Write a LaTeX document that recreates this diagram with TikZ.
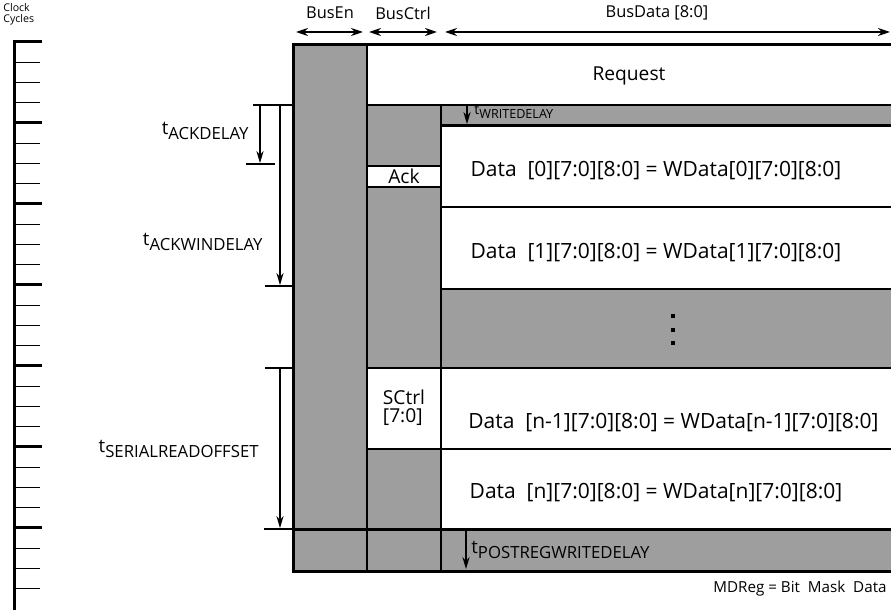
\documentclass[tikz,border=0pt]{standalone}
\usepackage{fontspec}
\setmainfont{Open Sans}
\usetikzlibrary{positioning,arrows.meta}
\definecolor{halftone}{gray}{0.62}
\newcommand{\tsub}[1]{t\raisebox{-0.55ex}{\scalebox{0.9}{#1}}}

\begin{document}
\begin{tikzpicture}[x=0.5pt,y=-0.5pt,
  lbl/.style={inner sep=1pt, font=\fontsize{9.6}{11}\selectfont},
  row/.style={inner sep=1pt, font=\fontsize{10.5}{12}\selectfont},
  head/.style={inner sep=1pt, font=\fontsize{8.2}{9}\selectfont},
  tiny/.style={inner sep=0pt, font=\fontsize{5.3}{5.6}\selectfont},
  note/.style={inner sep=1pt, font=\fontsize{9.3}{10}\selectfont},
  grid/.style={line width=0.9pt},
  heavy/.style={line width=1.5pt},
  span/.style={line width=0.8pt, {Stealth[length=6pt,width=4pt]}-{Stealth[length=6pt,width=4pt]}},
  delay/.style={line width=0.6pt, -{Stealth[length=6pt,width=3.6pt]}}
]
\useasboundingbox (0,0) rectangle (891,610);

% clock cycles
\node[tiny, anchor=north west, align=left] (clk) at (3,3) {Clock\\Cycles};
\draw[heavy] (14,40) -- (14,610);
\foreach \i in {0,...,27}
  \draw[line width=0.6pt] (14,{42+20.25*\i}) -- (40,{42+20.25*\i});
\foreach \i in {0,4,...,24}
  \draw[heavy] (14,{42+20.25*\i}) -- (42,{42+20.25*\i});

% column headers
\node[head] (busen) at (330,13) {BusEn};
\node[head] (busctrl) at (403,13) {BusCtrl};
\node[head] (busdata) at (657,13) {BusData [8:0]};
\coordinate (enL) at (296,32); \coordinate (enR) at (363,32);
\coordinate (ctL) at (369,32); \coordinate (ctR) at (437,32);
\coordinate (daL) at (445,32); \coordinate (daR) at (890,32);
\draw[span] (enL) -- (enR);
\draw[span] (ctL) -- (ctR);
\draw[span] (daL) -- (daR);

% shaded areas
\fill[halftone] (293,45) rectangle (367,572);
\fill[halftone] (367,105) rectangle (441,572);
\fill[halftone] (441,105) rectangle (891,126);
\fill[halftone] (441,289) rectangle (891,368);
\fill[halftone] (441,530) rectangle (891,572);
\fill[white] (367,166) rectangle (441,187);
\fill[white] (367,368) rectangle (441,449);

% frame and row lines
\draw[heavy] (891,45) -- (293,45) -- (293,572) -- (891,572);
\draw[grid] (367,45) -- (367,572);
\draw[grid] (441,105) -- (441,572);
\draw[grid] (367,105) -- (891,105);
\draw[heavy] (441,126) -- (891,126);
\draw[grid] (367,166) -- (441,166);
\draw[grid] (367,187) -- (441,187);
\draw[grid] (441,207) -- (891,207);
\draw[grid] (441,289) -- (891,289);
\draw[grid] (367,368) -- (891,368);
\draw[grid] (367,449) -- (891,449);
\draw[heavy] (293,530) -- (891,530);

% row texts
\node[lbl] (req) at (629,76) {Request};
\node[lbl] (ack) at (404,176) {Ack};
\node[lbl, align=left] (sctrl) at (404,408) {SCtrl\\[-2pt][7:0]};
\node[row] (d0) at (656,171) {Data\ \ [0][7:0][8:0] = WData[0][7:0][8:0]};
\node[row] (d1) at (656,253) {Data\ \ [1][7:0][8:0] = WData[1][7:0][8:0]};
\node[row, anchor=west] (dn1) at (466,423) {Data\ \ [n-1][7:0][8:0] = WData[n-1][7:0][8:0]};
\node[row] (dn) at (656,493) {Data\ \ [n][7:0][8:0] = WData[n][7:0][8:0]};
\foreach \y in {316,330,343}
  \fill (671,\y-2) rectangle (675,\y+2);

% delays inside the data column
\coordinate (wdT) at (467,106); \coordinate (wdB) at (467,124);
\draw[delay] (wdT) -- (wdB);
\node[inner sep=0pt, font=\fontsize{7}{7}\selectfont, anchor=west] (wd) at (474,112) {\tsub{WRITEDELAY}};
\coordinate (pwT) at (466,531); \coordinate (pwB) at (466,569);
\draw[delay] (pwT) -- (pwB);
\node[note, anchor=west, inner sep=0pt] (pw) at (471,550) {\tsub{POSTREGWRITEDELAY}};

% delays on the left
\coordinate (a1) at (253,105); \coordinate (a2) at (293,105);
\coordinate (b1) at (246,164); \coordinate (b2) at (275,164);
\coordinate (c1) at (265,286); \coordinate (c2) at (293,286);
\coordinate (s1) at (265,368); \coordinate (s2) at (293,368);
\coordinate (e1) at (264,529); \coordinate (e2) at (293,529);
\draw[grid] (a1) -- (a2); \draw[grid] (b1) -- (b2); \draw[grid] (c1) -- (c2);
\draw[grid] (s1) -- (s2); \draw[grid] (e1) -- (e2);
\draw[delay] (260,105) -- (260,163);
\draw[delay] (280,105) -- (280,285);
\draw[delay] (280,368) -- (280,528);
\node[note, anchor=east] (tack) at (251,131) {\tsub{ACKDELAY}};
\node[note, anchor=east] (tackwin) at (265,242) {\tsub{ACKWINDELAY}};
\node[note, anchor=east] (tser) at (261,449) {\tsub{SERIALREADOFFSET}};

% legend
\node[inner sep=1pt, font=\fontsize{7.6}{9}\selectfont, anchor=east] (mdreg) at (889,589) {MDReg = Bit\ \ Mask\ \ Data};
\end{tikzpicture}
\end{document}
